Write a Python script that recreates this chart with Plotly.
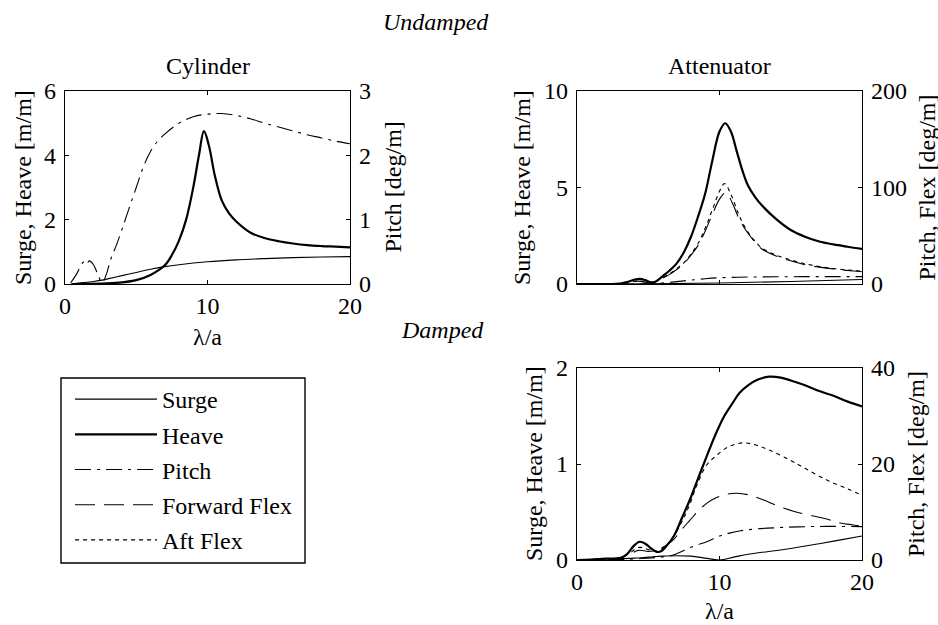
import plotly.graph_objects as go

# ---------------- data ----------------
# Cylinder (undamped)
cyl_surge_x = [0.4, 1, 2, 2.6, 3, 4, 5, 6, 7, 8, 10, 12, 14, 16, 18, 20]
cyl_surge_y = [0.0, 0.03, 0.08, 0.12, 0.16, 0.26, 0.36, 0.46, 0.54, 0.6, 0.69, 0.75, 0.79, 0.82, 0.84, 0.85]

cyl_heave_x = [0.5, 3, 4, 5, 6, 7, 7.5, 8, 8.5, 9, 9.4, 9.75, 10.1, 10.5, 11, 11.5, 12, 13, 14, 15, 16, 17, 18, 19, 20]
cyl_heave_y = [0.0, 0.02, 0.05, 0.12, 0.28, 0.58, 0.9, 1.35, 2.0, 3.0, 4.0, 4.75, 4.3, 3.4, 2.6, 2.2, 1.95, 1.6, 1.43, 1.33, 1.26, 1.21, 1.18, 1.16, 1.14]

cyl_pitch_x = [0.4, 0.8, 1.1, 1.3, 1.5, 1.7, 2.0, 2.3, 2.6, 2.9, 3.2, 3.6, 4, 4.5, 5, 5.5, 6, 6.5, 7, 8, 9, 10, 11, 12, 13, 14, 15, 16, 17, 18, 19, 20]
cyl_pitch_y = [0.02, 0.15, 0.28, 0.34, 0.3, 0.36, 0.3, 0.15, 0.02, 0.15, 0.38, 0.6, 0.85, 1.18, 1.5, 1.82, 2.06, 2.22, 2.33, 2.5, 2.6, 2.64, 2.65, 2.62, 2.57, 2.5, 2.44, 2.38, 2.32, 2.27, 2.22, 2.18]

# Attenuator (undamped)
att_surge_x = [0, 5, 10, 15, 20]
att_surge_y = [0.0, 0.01, 0.05, 0.13, 0.23]

att_heave_x = [0, 3, 3.5, 4, 4.4, 4.8, 5.2, 5.5, 6, 6.5, 7, 7.5, 8, 8.5, 9, 9.5, 10, 10.4, 10.8, 11.2, 11.6, 12, 12.5, 13, 14, 15, 16, 17, 18, 19, 20]
att_heave_y = [0.0, 0.02, 0.1, 0.22, 0.27, 0.2, 0.08, 0.12, 0.4, 0.7, 1.07, 1.65, 2.45, 3.5, 4.7, 6.4, 7.9, 8.33, 7.9, 6.9, 5.9, 5.1, 4.5, 4.05, 3.35, 2.8, 2.45, 2.2, 2.05, 1.93, 1.82]

att_pitch_x = [0, 5, 6, 7, 8, 9, 10, 12, 14, 16, 18, 20]
att_pitch_y = [0.0, 0.2, 1.0, 2.5, 4.0, 5.5, 6.5, 7.2, 7.5, 7.6, 7.6, 7.6]

att_fflex_x = [0, 3, 3.5, 4.3, 5, 5.5, 6, 6.5, 7, 7.5, 8, 8.5, 9, 9.5, 10, 10.45, 10.9, 11.3, 11.7, 12.4, 13, 13.8, 15, 16, 17, 18, 19, 20]
att_fflex_y = [0.0, 0.3, 1.0, 3.0, 1.5, 2.5, 6, 10, 15, 21, 30, 40, 55, 72, 88, 94.6, 84, 70, 59, 45, 36, 30, 24, 20, 17.5, 15.5, 14, 12.7]

att_aflex_x = [0, 3, 3.5, 4.3, 5, 5.5, 6, 6.5, 7, 7.5, 8, 8.5, 9, 9.5, 10, 10.35, 10.8, 11.3, 11.7, 12.4, 13, 13.8, 15, 16, 17, 18, 19, 20]
att_aflex_y = [0.0, 0.3, 1.0, 3.2, 1.6, 2.7, 6.5, 10.5, 16, 22, 31, 42, 58, 77, 96, 104, 93, 74, 61, 46, 37, 31, 25, 21, 18, 16, 14.5, 13.2]

# Attenuator (damped)
dmp_surge_x = [0, 2, 4, 5, 6, 7, 8, 9, 10, 11, 12, 13, 15, 17, 18.5, 20]
dmp_surge_y = [0.0, 0.01, 0.02, 0.03, 0.04, 0.045, 0.04, 0.02, 0.0, 0.03, 0.06, 0.08, 0.12, 0.17, 0.21, 0.25]

dmp_heave_x = [0, 1, 2, 3, 3.5, 4, 4.4, 4.8, 5.2, 5.6, 5.9, 6.3, 6.8, 7.4, 7.9, 8.5, 9.1, 9.7, 10.3, 10.9, 11.4, 12, 12.7, 13.5, 14.3, 15, 16, 17, 18, 19, 20]
dmp_heave_y = [0.0, 0.005, 0.015, 0.02, 0.06, 0.15, 0.19, 0.17, 0.12, 0.085, 0.09, 0.15, 0.25, 0.45, 0.62, 0.85, 1.08, 1.3, 1.49, 1.63, 1.74, 1.82, 1.88, 1.91, 1.9, 1.87, 1.82, 1.76, 1.71, 1.65, 1.6]

dmp_pitch_x = [0, 3, 4.5, 5.5, 6.2, 6.76, 7.5, 8.3, 9.1, 10, 10.7, 11.5, 12.5, 13.8, 15.5, 17.5, 20]
dmp_pitch_y = [0.0, 0.1, 0.3, 0.5, 0.7, 1.04, 2.0, 3.0, 3.8, 5.0, 5.6, 6.1, 6.45, 6.7, 6.9, 7.0, 6.95]

dmp_fflex_x = [0, 2, 3, 3.6, 4.3, 5, 5.6, 6, 6.76, 7.3, 7.93, 8.5, 9.1, 9.8, 10.5, 11.2, 12, 13, 14.25, 15.5, 17.3, 18.5, 19.4, 20]
dmp_fflex_y = [0.0, 0.2, 0.4, 1.0, 2.0, 1.8, 2.0, 2.6, 4.2, 6.2, 8.3, 10.2, 11.8, 13.0, 13.7, 13.9, 13.6, 12.6, 11.1, 9.9, 8.7, 7.7, 7.3, 7.0]

dmp_aflex_x = [0, 2, 3, 3.6, 4.3, 5, 5.6, 6, 6.5, 7, 7.5, 7.9, 8.4, 9.1, 9.8, 10.5, 11.2, 11.7, 12.5, 13.5, 14.95, 16, 17.5, 19, 20]
dmp_aflex_y = [0.0, 0.2, 0.4, 1.2, 2.6, 2.2, 1.8, 2.4, 3.8, 6.0, 8.8, 11.5, 15.5, 19.8, 21.8, 23.4, 24.2, 24.4, 24.0, 22.9, 20.8, 19.1, 16.7, 14.8, 13.5]

x_ticks = [0, 10, 20]
legend_names = ["Surge", "Heave", "Pitch", "Forward Flex", "Aft Flex"]

# ---------------- styles ----------------
FONT = "Times New Roman, Liberation Serif, serif"
BLK = "black"
styles = {
    "Surge": dict(color=BLK, width=1.1, dash="solid"),
    "Heave": dict(color=BLK, width=2.2, dash="solid"),
    "Pitch": dict(color=BLK, width=1.1, dash="16px,6px,3px,6px"),
    "Forward Flex": dict(color=BLK, width=1.1, dash="20px,9px"),
    "Aft Flex": dict(color=BLK, width=1.1, dash="4px,4px"),
}

W, H = 938, 625
def fx(p):
    return p / W
def fy(p):
    return 1 - p / H
def px_x(a, b):
    return [fx(a), fx(b)]
def px_y(top, bottom):
    return [fy(bottom), fy(top)]

fig = go.Figure()
shown = set()

def add(x, y, name, xa, ya):
    show = name not in shown
    shown.add(name)
    fig.add_trace(go.Scatter(
        x=x, y=y, mode="lines", name=name, line=styles[name],
        xaxis=xa, yaxis=ya, showlegend=show, legendgroup=name,
        legendrank=legend_names.index(name) + 1, line_shape="spline",
    ))

# Cylinder
add(cyl_surge_x, cyl_surge_y, "Surge", "x", "y")
add(cyl_heave_x, cyl_heave_y, "Heave", "x", "y")
add(cyl_pitch_x, cyl_pitch_y, "Pitch", "x", "y2")
# Attenuator undamped
add(att_surge_x, att_surge_y, "Surge", "x2", "y3")
add(att_heave_x, att_heave_y, "Heave", "x2", "y3")
add(att_pitch_x, att_pitch_y, "Pitch", "x2", "y4")
add(att_fflex_x, att_fflex_y, "Forward Flex", "x2", "y4")
add(att_aflex_x, att_aflex_y, "Aft Flex", "x2", "y4")
# Attenuator damped
add(dmp_surge_x, dmp_surge_y, "Surge", "x3", "y5")
add(dmp_heave_x, dmp_heave_y, "Heave", "x3", "y5")
add(dmp_pitch_x, dmp_pitch_y, "Pitch", "x3", "y6")
add(dmp_fflex_x, dmp_fflex_y, "Forward Flex", "x3", "y6")
add(dmp_aflex_x, dmp_aflex_y, "Aft Flex", "x3", "y6")

TICKF = dict(family=FONT, size=24, color=BLK)
TITLEF = dict(family=FONT, size=24, color=BLK)
LW = 1.2

def xax(domain, anchor, labels):
    return dict(domain=domain, anchor=anchor, range=[0, 20], tickvals=x_ticks,
                showticklabels=labels, ticks="inside", ticklen=4, tickwidth=LW,
                tickcolor=BLK, showline=True, linecolor=BLK, linewidth=LW,
                mirror="ticks", showgrid=False, zeroline=False, tickfont=TICKF,
                automargin=False, fixedrange=True)

def yax(domain, anchor, rng, dtick, side="left", overlay=None):
    d = dict(domain=domain, anchor=anchor, range=rng, dtick=dtick, side=side,
             ticks="inside", ticklen=4, tickwidth=LW, tickcolor=BLK,
             showline=True, linecolor=BLK, linewidth=LW, showgrid=False,
             zeroline=False, tickfont=TICKF, ticklabelstandoff=3,
             automargin=False, fixedrange=True)
    if overlay:
        d["overlaying"] = overlay
    return d

top_dom = px_y(91, 284)
bot_dom = px_y(368, 560)
left_dom = px_x(65, 350)
right_dom = px_x(577, 862)

def label(text, x, y, angle=0):
    return dict(text=text, x=fx(x), y=fy(y), xref="paper", yref="paper",
                showarrow=False, font=TITLEF, xanchor="center", yanchor="middle",
                textangle=angle)

fig.update_layout(
    width=W, height=H,
    margin=dict(l=0, r=0, t=0, b=0),
    paper_bgcolor="white", plot_bgcolor="white",
    font=dict(family=FONT, color=BLK),
    xaxis=xax(left_dom, "y", True),
    yaxis=yax(top_dom, "x", [0, 6], 2),
    yaxis2=yax(top_dom, "x", [0, 3], 1, side="right", overlay="y"),
    xaxis2=xax(right_dom, "y3", False),
    yaxis3=yax(top_dom, "x2", [0, 10], 5),
    yaxis4=yax(top_dom, "x2", [0, 200], 100, side="right", overlay="y3"),
    xaxis3=xax(right_dom, "y5", True),
    yaxis5=yax(bot_dom, "x3", [0, 2], 1),
    yaxis6=yax(bot_dom, "x3", [0, 40], 20, side="right", overlay="y5"),
    showlegend=True,
    legend=dict(
        x=fx(70), y=fy(377), xanchor="left", yanchor="top",
        borderwidth=0, bgcolor="rgba(0,0,0,0)",
        font=dict(family=FONT, size=24, color=BLK),
        itemwidth=82, tracegroupgap=1, traceorder="grouped",
    ),
    shapes=[
        # legend frame
        dict(type="rect", xref="paper", yref="paper",
             x0=fx(61), x1=fx(305), y0=fy(563), y1=fy(378),
             line=dict(color=BLK, width=1.4), fillcolor="rgba(0,0,0,0)", layer="below"),
    ],
    annotations=[
        label("<i>Undamped</i>", 436, 22),
        label("<i>Damped</i>", 442, 330),
        label("Cylinder", 207.5, 66),
        label("Attenuator", 719.5, 66),
        label("λ/a", 207.5, 337),
        label("λ/a", 719.5, 611),
        label("Surge, Heave [m/m]", 22.5, 187.5, -90),
        label("Pitch [deg/m]", 392, 187.5, -90),
        label("Surge, Heave [m/m]", 521.5, 187.5, -90),
        label("Pitch, Flex [deg/m]", 926, 187.5, -90),
        label("Surge, Heave [m/m]", 534, 464, -90),
        label("Pitch, Flex [deg/m]", 916, 464, -90),
    ],
)

fig.write_html(
    "out.html",
    config={"displayModeBar": False},
    post_script="document.body.style.margin='0';document.body.style.overflow='hidden';",
)
